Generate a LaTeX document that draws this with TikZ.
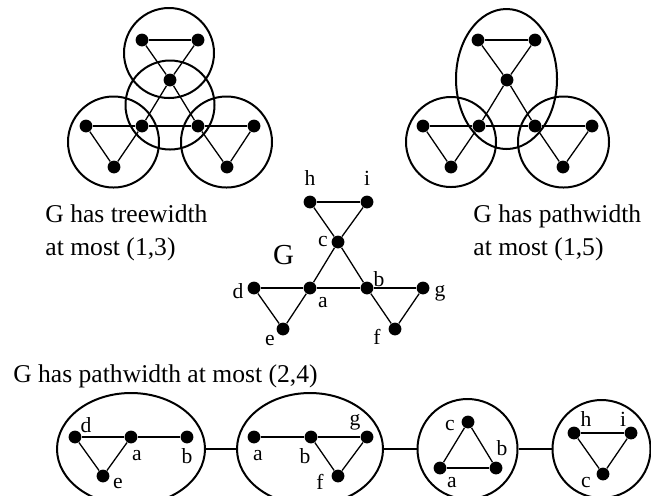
\documentclass[tikz,border=0pt]{standalone}
\usepackage{fontspec}
\setmainfont{Liberation Serif}
\usetikzlibrary{shapes.geometric}

\begin{document}
\begin{tikzpicture}[x=0.5pt, y=-0.5pt,
    vtx/.style={circle, fill=black, inner sep=0pt, minimum size=6.4pt},
    gedge/.style={line width=0.65pt},
    bag/.style={draw, line width=1pt, inner sep=0pt},
    lbl/.style={inner sep=0pt, font=\fontsize{10.8}{13}\selectfont},
    txt/.style={inner sep=0pt, align=left, font=\fontsize{12.8}{16.5}\selectfont}]
    \useasboundingbox (0,0) rectangle (651,495);
    \clip (0,0) rectangle (651,495);

    % tree decomposition (top left)
    \node[bag, circle, minimum size=45pt] (Lbag1) at (169,53) {};
    \node[bag, circle, minimum size=44.5pt] (Lbag2) at (170,105) {};
    \node[bag, circle, minimum size=45.5pt] (Lbag3) at (113.5,142) {};
    \node[bag, circle, minimum size=45.5pt] (Lbag4) at (226.5,142) {};
    \foreach \n/\x/\y in {h/142/40, i/198/40, c/170/80, d/86/126, a/142/126,
        b/198/126, g/254/126, e/114/167, f/227/167}
        \node[vtx] (L\n) at (\x,\y) {};
    \foreach \u/\v in {h/i, h/c, i/c, c/a, c/b, a/b, d/a, d/e, a/e, b/g, b/f, g/f}
        \draw[gedge] (L\u) -- (L\v);

    % path decomposition (top right)
    \node[bag, ellipse, minimum width=50.5pt, minimum height=70pt] (Rbag1) at (506.5,79) {};
    \node[bag, circle, minimum size=45pt] (Rbag2) at (451,142) {};
    \node[bag, circle, minimum size=45.5pt] (Rbag3) at (563.5,142) {};
    \foreach \n/\x/\y in {h/478/40, i/535/40, c/507/80, d/423/126, a/479/126,
        b/535/126, g/592/126, e/451/167, f/563/167}
        \node[vtx] (R\n) at (\x,\y) {};
    \foreach \u/\v in {h/i, h/c, i/c, c/a, c/b, a/b, d/a, d/e, a/e, b/g, b/f, g/f}
        \draw[gedge] (R\u) -- (R\v);

    \node[txt, anchor=west] (twtext) at (45,233) {G has treewidth\\at most (1,3)};
    \node[txt, anchor=west] (pwtext) at (473,233) {G has pathwidth\\at most (1,5)};

    % the graph G
    \foreach \n/\x/\y in {h/310/202, i/367/202, c/338/242, d/254/288, a/310/288,
        b/367/288, g/423/288, e/283/329, f/395/329}
        \node[vtx] (G\n) at (\x,\y) {};
    \foreach \u/\v in {h/i, h/c, i/c, c/a, c/b, a/b, d/a, d/e, a/e, b/g, b/f, g/f}
        \draw[gedge] (G\u) -- (G\v);
    \foreach \n/\x/\y in {h/310/178, i/367/178, c/323/242, d/238/291, a/323/303,
        b/379/279, g/440/293, e/270/340, f/377/337}
        \node[lbl] (Gl\n) at (\x,\y) {\n};
    \node[inner sep=0pt, font=\fontsize{14.5}{17}\selectfont] (gname) at (283.5,255) {G};

    % path decomposition of width (2,4)
    \node[txt, anchor=base east] (pwtext2) at (318,382) {G has pathwidth at most (2,4)};
    \node[bag, ellipse, minimum width=74pt, minimum height=56pt] (P1) at (131,449) {};
    \node[bag, ellipse, minimum width=73pt, minimum height=56pt] (P2) at (310,449) {};
    \node[bag, circle, minimum size=50pt] (P3) at (467.5,449) {};
    \node[bag, circle, minimum size=49pt] (P4) at (601.5,449) {};
    \draw[line width=1pt] (P1) -- (P2);
    \draw[line width=1pt] (P2) -- (P3);
    \draw[line width=1pt] (P3) -- (P4);

    \foreach \n/\x/\y in {d/75/437, a/131/437, b/187/437, e/103/476}
        \node[vtx] (p1\n) at (\x,\y) {};
    \foreach \u/\v in {d/a, a/b, d/e, a/e}
        \draw[gedge] (p1\u) -- (p1\v);
    \foreach \n/\x/\y in {d/86/425, a/137/456, b/187/456, e/118/483}
        \node[lbl] (p1l\n) at (\x,\y) {\n};

    \foreach \n/\x/\y in {a/254/437, b/311/437, g/367/437, f/338/476}
        \node[vtx] (p2\n) at (\x,\y) {};
    \foreach \u/\v in {a/b, b/g, b/f, g/f}
        \draw[gedge] (p2\u) -- (p2\v);
    \foreach \n/\x/\y in {a/258/456, b/305/456, g/355/422, f/320/482}
        \node[lbl] (p2l\n) at (\x,\y) {\n};

    \foreach \n/\x/\y in {c/468/422, a/440/468, b/496/468}
        \node[vtx] (p3\n) at (\x,\y) {};
    \foreach \u/\v in {c/a, a/b, b/c}
        \draw[gedge] (p3\u) -- (p3\v);
    \foreach \n/\x/\y in {c/450/425, b/502/448, a/452/483}
        \node[lbl] (p3l\n) at (\x,\y) {\n};

    \foreach \n/\x/\y in {h/574/433, i/631/433, c/603/474}
        \node[vtx] (p4\n) at (\x,\y) {};
    \foreach \u/\v in {h/i, h/c, i/c}
        \draw[gedge] (p4\u) -- (p4\v);
    \foreach \n/\x/\y in {h/586/419, i/623/419, c/586/482}
        \node[lbl] (p4l\n) at (\x,\y) {\n};
\end{tikzpicture}
\end{document}
